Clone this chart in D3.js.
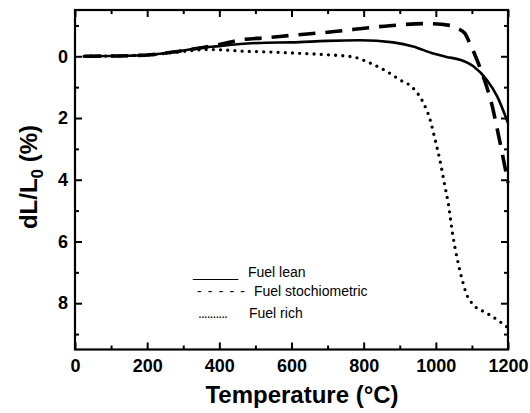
<!DOCTYPE html>
<html>
<head>
<meta charset="utf-8">
<script src="https://cdn.jsdelivr.net/npm/d3@7"></script>
<style>
  html, body { margin: 0; padding: 0; background: #fff; }
  svg { display: block; }
  text { font-family: "Liberation Sans", Arial, sans-serif; fill: #000; }
</style>
</head>
<body>
<svg id="chart" width="530" height="413"></svg>
<script>
// Dilatometer curves: relative length change vs temperature
const leanT = [25, 100, 150, 210, 280, 346, 400, 457, 530, 600, 698, 790, 882, 937, 993, 1030, 1067, 1104, 1141, 1170, 1200];
const leanV = [0, -0.01, -0.02, -0.05, -0.15, -0.27, -0.33, -0.4, -0.44, -0.45, -0.5, -0.52, -0.45, -0.32, -0.09, 0.02, 0.11, 0.32, 0.76, 1.3, 2.16];

const stoichT = [25, 100, 150, 210, 280, 346, 400, 457, 530, 600, 700, 872, 968, 1040, 1060, 1080, 1095, 1110, 1125, 1140, 1155, 1170, 1185, 1200];
const stoichV = [0, -0.01, -0.02, -0.05, -0.15, -0.27, -0.38, -0.53, -0.6, -0.68, -0.78, -0.99, -1.06, -1.0, -0.9, -0.75, -0.4, 0.0, 0.45, 0.95, 1.55, 2.35, 3.2, 4.1];

const richT = [25, 100, 150, 210, 280, 365, 420, 457, 513, 596, 698, 770, 818, 864, 900, 937, 965, 984, 998, 1011, 1025, 1035, 1046, 1060, 1073, 1086, 1104, 1141, 1178, 1200];
const richV = [0, -0.01, -0.02, -0.05, -0.13, -0.22, -0.2, -0.17, -0.15, -0.11, -0.05, 0.02, 0.22, 0.49, 0.76, 1.03, 1.5, 2.05, 2.7, 3.35, 4.2, 4.8, 5.72, 6.6, 7.24, 7.73, 8.05, 8.32, 8.6, 8.8];

const xMajor = [0, 200, 400, 600, 800, 1000, 1200];
const xMinor = [100, 300, 500, 700, 900, 1100];
const yMajor = [0, 2, 4, 6, 8];
const yMinor = [-1, 1, 3, 5, 7, 9];

const legendLabels = ["Fuel lean", "Fuel stochiometric", "Fuel rich"];
const legendSamples = ["______", "- - - - -", ".........."];

const svg = d3.select("#chart");
const plotL = 75, plotR = 508, plotT = 10, plotB = 349.5;

const x = d3.scaleLinear().domain([0, 1200]).range([plotL, plotR]);
const y = d3.scaleLinear().domain([-1.5, 9.5]).range([plotT, plotB]);

const line = d3.line()
  .x(d => x(d[0]))
  .y(d => y(d[1]))
  .curve(d3.curveMonotoneX);

const series = [
  { t: leanT, v: leanV, width: 2.6, dash: null, cap: "butt" },
  { t: stoichT, v: stoichV, width: 3.6, dash: "17,10", cap: "butt" },
  { t: richT, v: richV, width: 3.3, dash: "0,7.2", cap: "round" }
];

const plot = svg.append("g");
series.forEach(s => {
  plot.append("path")
    .datum(d3.zip(s.t, s.v))
    .attr("d", line)
    .attr("fill", "none")
    .attr("stroke", "#000")
    .attr("stroke-width", s.width)
    .attr("stroke-linecap", s.cap)
    .attr("stroke-linejoin", "round")
    .attr("stroke-dasharray", s.dash);
});

// axes: ticks point inward on all four sides
function styleAxis(g) {
  g.select(".domain").remove();
  g.selectAll(".tick line").attr("stroke", "#000").attr("stroke-width", 2);
}

const tickFont = g => g.selectAll("text")
  .style("font-family", '"Liberation Sans", Arial, sans-serif')
  .style("font-size", "18px")
  .style("font-weight", "bold")
  .attr("fill", "#000");

svg.append("g").attr("transform", `translate(0,${plotB})`)
  .call(d3.axisBottom(x).tickValues(xMajor).tickSize(-7).tickSizeOuter(0).tickPadding(10).tickFormat(d3.format("d")))
  .call(styleAxis).call(tickFont);
svg.append("g").attr("transform", `translate(0,${plotB})`)
  .call(d3.axisBottom(x).tickValues(xMinor).tickSize(-4).tickFormat(""))
  .call(styleAxis);
svg.append("g").attr("transform", `translate(0,${plotT})`)
  .call(d3.axisTop(x).tickValues(xMajor).tickSize(-7).tickFormat(""))
  .call(styleAxis);
svg.append("g").attr("transform", `translate(0,${plotT})`)
  .call(d3.axisTop(x).tickValues(xMinor).tickSize(-4).tickFormat(""))
  .call(styleAxis);

svg.append("g").attr("transform", `translate(${plotL},0)`)
  .call(d3.axisLeft(y).tickValues(yMajor).tickSize(-7).tickSizeOuter(0).tickPadding(7).tickFormat(d3.format("d")))
  .call(styleAxis).call(tickFont);
svg.append("g").attr("transform", `translate(${plotL},0)`)
  .call(d3.axisLeft(y).tickValues(yMinor).tickSize(-4).tickFormat(""))
  .call(styleAxis);
svg.append("g").attr("transform", `translate(${plotR},0)`)
  .call(d3.axisRight(y).tickValues(yMajor).tickSize(-7).tickFormat(""))
  .call(styleAxis);
svg.append("g").attr("transform", `translate(${plotR},0)`)
  .call(d3.axisRight(y).tickValues(yMinor).tickSize(-4).tickFormat(""))
  .call(styleAxis);

// frame
svg.append("rect")
  .attr("x", plotL).attr("y", plotT)
  .attr("width", plotR - plotL).attr("height", plotB - plotT)
  .attr("fill", "none").attr("stroke", "#000").attr("stroke-width", 2.2);

// axis titles
svg.append("text")
  .attr("x", 302).attr("y", 403)
  .attr("text-anchor", "middle")
  .style("font-size", "24px").style("font-weight", "bold")
  .text("Temperature (°C)");

const yTitle = svg.append("text")
  .attr("transform", "translate(37,177) rotate(-90)")
  .attr("text-anchor", "middle")
  .style("font-size", "24px").style("font-weight", "bold");
yTitle.append("tspan").text("dL/L");
yTitle.append("tspan").attr("dy", 6).style("font-size", "17px").text("0");
yTitle.append("tspan").attr("dy", -6).text(" (%)");

// legend (typed line samples followed by labels)
const legendRows = [
  { sx: 193, sw: 45, tx: 248, by: 277 },
  { sx: 197, sw: 48, tx: 254, by: 296 },
  { sx: 198, sw: 30, tx: 249, by: 318 }
];
legendRows.forEach((r, i) => {
  svg.append("text")
    .attr("x", r.sx).attr("y", r.by)
    .attr("textLength", r.sw).attr("lengthAdjust", "spacing")
    .style("font-size", "14px")
    .style("white-space", "pre")
    .text(legendSamples[i]);
  svg.append("text")
    .attr("x", r.tx).attr("y", r.by)
    .style("font-size", "14px")
    .text(legendLabels[i]);
});
</script>
</body>
</html>
